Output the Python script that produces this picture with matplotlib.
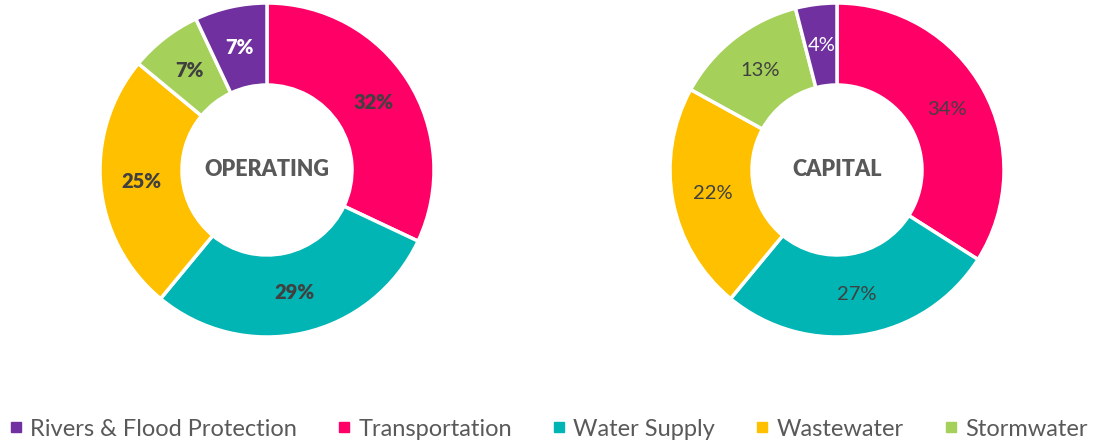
import matplotlib.pyplot as plt
from matplotlib.lines import Line2D

plt.rcParams['font.family'] = ['Lato', 'DejaVu Sans']

# drawing order (clockwise from 12 o'clock)
categories = ['Transportation', 'Water Supply', 'Wastewater', 'Stormwater', 'Rivers & Flood Protection']
colors = ['#FF0066', '#00B5B3', '#FFC000', '#A5D05A', '#7030A0']
operating = [32, 29, 25, 7, 7]
capital = [34, 27, 22, 13, 4]
legend_order = ['Rivers & Flood Protection', 'Transportation', 'Water Supply', 'Wastewater', 'Stormwater']

W, H = 1094, 441
fig = plt.figure(figsize=(W / 100, H / 100), dpi=100)
ax = fig.add_axes([0, 0, 1, 1])

R = 167
ring = 82


def donut(values, cx, cy, title, bold):
    wedges, texts, autotexts = ax.pie(
        values, colors=colors, radius=R, center=(cx, cy), startangle=90,
        counterclock=False, autopct='%d%%', pctdistance=0.754,
        wedgeprops=dict(width=ring, edgecolor='white', linewidth=2.5),
        textprops=dict(fontsize=14.5, color='#404040',
                       fontweight='heavy' if bold else 'normal'))
    autotexts[-1].set_color('white')
    ax.text(cx, cy, title, ha='center', va='center', fontsize=15.5,
            fontweight='heavy', color='#595959')


donut(operating, 267, H - 170, 'OPERATING', True)
donut(capital, 837, H - 170, 'CAPITAL', False)

ax.set_xlim(0, W)
ax.set_ylim(0, H)
ax.set_aspect('equal')
ax.axis('off')

handles = [Line2D([], [], marker='s', linestyle='', markersize=7,
                  color=colors[categories.index(c)]) for c in legend_order]
fig.legend(handles, legend_order, loc='center', bbox_to_anchor=(0.5, 1 - 429 / H),
           ncol=5, frameon=False, fontsize=17, labelcolor='#595959',
           handletextpad=0.2, columnspacing=1.6, handlelength=0.8)

fig.savefig('out.png', dpi=100)
